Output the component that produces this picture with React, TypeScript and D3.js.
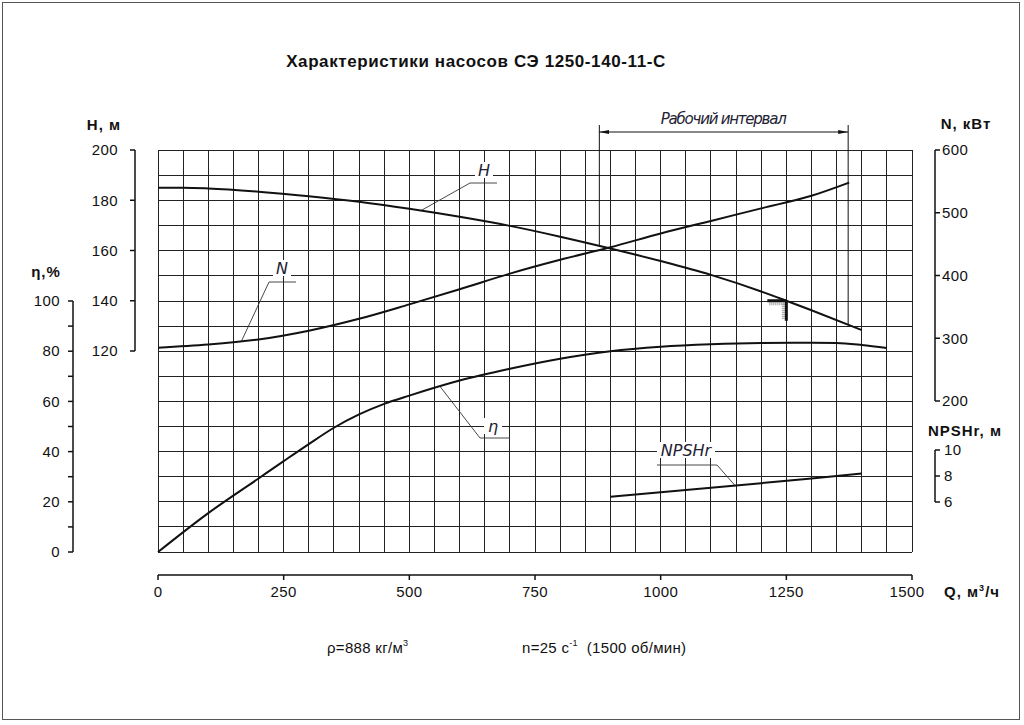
import * as d3 from 'd3';

// pump curves
const qH = [0, 50, 100, 200, 300, 400, 500, 600, 700, 800, 900, 1000, 1100, 1200, 1250, 1300, 1400];
const headM = [185, 185, 184.7, 183.4, 181.6, 179.4, 176.6, 173.4, 169.8, 165.5, 160.8, 155.8, 150.3, 143.7, 140, 136.2, 128.3];

const qN = [0, 100, 200, 300, 400, 500, 600, 700, 800, 900, 1000, 1100, 1200, 1300, 1375];
const powerKw = [285, 290, 298, 312, 331, 354, 378, 403, 425, 445, 467, 487, 507, 527, 548];

const qEta = [0, 100, 200, 250, 300, 350, 400, 450, 500, 600, 700, 800, 900, 1000, 1100, 1200, 1300, 1350, 1400, 1450];
const etaPct = [0, 15.5, 29.3, 36.2, 43, 49.5, 54.8, 59, 62.3, 68.3, 73, 77, 80, 81.8, 82.8, 83.3, 83.4, 83.3, 82.5, 81.3];

const qNpsh = [900, 1000, 1100, 1200, 1300, 1400];
const npshM = [6.4, 6.75, 7.1, 7.45, 7.8, 8.2];

const workInterval = [878, 1373];
const dutyPoint = { q: 1250, h: 140 };

const qTicks = [0, 250, 500, 750, 1000, 1250, 1500];
const hTicks = [120, 140, 160, 180, 200];
const etaTicks = [0, 20, 40, 60, 80, 100];
const nTicks = [200, 300, 400, 500, 600];
const npshTicks = [6, 8, 10];

const FONT = "'Liberation Sans', Arial, sans-serif";
const TICK_FS = 15;

export default function App() {
    const x = d3.scaleLinear().domain([0, 1500]).range([158, 912]);
    const yH = d3.scaleLinear().domain([120, 200]).range([351, 150]);
    const yEta = d3.scaleLinear().domain([0, 100]).range([552, 301]);
    const yN = d3.scaleLinear().domain([200, 600]).range([401, 150]);
    const yNpsh = d3.scaleLinear().domain([6, 10]).range([502, 450]);

    const mkLine = (qs: number[], vs: number[], y: d3.ScaleLinear<number, number>) =>
        d3.line<number>().x((_, i) => x(qs[i])).y(v => y(v)).curve(d3.curveMonotoneX)(vs) || '';

    // value of a curve at q (linear between read points)
    const at = (qs: number[], vs: number[], q: number) => {
        const i = Math.max(1, Math.min(qs.length - 1, d3.bisectLeft(qs, q)));
        const t = (q - qs[i - 1]) / (qs[i] - qs[i - 1]);
        return vs[i - 1] + t * (vs[i] - vs[i - 1]);
    };

    const gridX = d3.range(0, 1501, 50);
    const gridY = d3.range(0, 161, 10);
    const gTop = yEta(160);
    const gBot = yEta(0);

    // curve labels: anchor on curve, elbow, underline end, text pos
    const labels = [
        { text: 'H', ax: x(523), ay: yH(at(qH, headM, 523)), ex: 470, ey: 183, ux: 497, tx: 484, ty: 176 },
        { text: 'N', ax: x(166), ay: yN(at(qN, powerKw, 166)), ex: 269, ey: 282, ux: 296, tx: 282, ty: 274 },
        { text: 'η', ax: x(561), ay: yEta(at(qEta, etaPct, 561)), ex: 480, ey: 438, ux: 510, tx: 493, ty: 432 },
        { text: 'NPSHr', ax: x(1148), ay: yNpsh(at(qNpsh, npshM, 1148)), ex: 717, ey: 465, ux: 657, tx: 686, ty: 456 },
    ];

    const wx0 = x(workInterval[0]);
    const wx1 = x(workInterval[1]);
    const dpx = x(dutyPoint.q);
    const dpy = yH(dutyPoint.h);

    const tickText = { fontSize: TICK_FS, fill: '#111', letterSpacing: 0.4 } as const;
    const axTitle = { fontSize: 15, fontWeight: 'bold', fill: '#111', letterSpacing: 1 } as const;

    return (
        <svg width={1024} height={725} style={{ position: 'absolute', left: 0, top: 0, background: '#fff' }}
            fontFamily={FONT}>
            <defs>
                <marker id="arr" viewBox="0 0 10 6" refX="10" refY="3" markerWidth="10" markerHeight="6"
                    markerUnits="userSpaceOnUse" orient="auto-start-reverse">
                    <path d="M0,1 L10,3 L0,5 Z" fill="#111" />
                </marker>
            </defs>
            <rect x={2.5} y={2.5} width={1017} height={717} fill="none" stroke="#555" />

            <text x={476} y={67} textAnchor="middle" fontSize={17} fontWeight="bold" fill="#111" letterSpacing={0.6}>
                Характеристики насосов СЭ 1250-140-11-С
            </text>

            {/* grid */}
            <g stroke="#222" strokeWidth={1} shapeRendering="crispEdges">
                {gridX.map(q => <line key={'gx' + q} x1={x(q)} x2={x(q)} y1={gTop} y2={gBot} />)}
                {gridY.map(v => <line key={'gy' + v} x1={x(0)} x2={x(1500)} y1={yEta(v)} y2={yEta(v)} />)}
            </g>

            {/* working interval */}
            <g stroke="#111" strokeWidth={1}>
                <line x1={wx0} x2={wx0} y1={125} y2={yH(at(qH, headM, workInterval[0]))} />
                <line x1={wx1} x2={wx1} y1={125} y2={yH(at(qH, headM, workInterval[1]))} />
                <line x1={wx0} x2={wx1} y1={132} y2={132} markerStart="url(#arr)" markerEnd="url(#arr)" />
            </g>
            <text x={(wx0 + wx1) / 2} y={124} textAnchor="middle" fontSize={15} fontStyle="italic" fill="#223"
                fontFamily="'DejaVu Sans', sans-serif" fontWeight={200} textLength={126}>
                Рабочий интервал
            </text>

            {/* label leaders */}
            {labels.map(l => (
                <g key={l.text}>
                    <polyline points={`${l.ax},${l.ay} ${l.ex},${l.ey} ${l.ux},${l.ey}`} fill="none" stroke="#333" strokeWidth={0.9} />
                    <rect x={l.tx - (l.text.length * 5 + 4)} y={l.ty - 14} width={l.text.length * 10 + 8} height={16} fill="#fff" />
                    <text x={l.tx} y={l.ty} textAnchor="middle" fontSize={16} fontStyle="italic" fill="#223"
                        fontFamily="'DejaVu Sans', sans-serif" fontWeight={200}>{l.text}</text>
                </g>
            ))}

            {/* curves */}
            <g fill="none" stroke="#111" strokeWidth={2}>
                <path d={mkLine(qH, headM, yH)} />
                <path d={mkLine(qN, powerKw, yN)} />
                <path d={mkLine(qEta, etaPct, yEta)} />
                <path d={mkLine(qNpsh, npshM, yNpsh)} />
            </g>

            {/* duty point */}
            <g>
                <line x1={dpx - 17} x2={dpx - 2} y1={dpy + 3} y2={dpy + 3} stroke="#999" strokeWidth={3} strokeDasharray="1 1" />
                <line x1={dpx - 3} x2={dpx - 3} y1={dpy + 3} y2={dpy + 19} stroke="#999" strokeWidth={3} strokeDasharray="1 1" />
                <line x1={dpx - 19} x2={dpx} y1={dpy} y2={dpy} stroke="#111" strokeWidth={3} />
                <line x1={dpx} x2={dpx} y1={dpy} y2={dpy + 20} stroke="#111" strokeWidth={3} />
            </g>

            {/* H axis */}
            <g stroke="#111" strokeWidth={1.5} fill="none">
                <line x1={135} x2={135} y1={yH(200)} y2={yH(120)} />
                {hTicks.map(v => <line key={'ht' + v} x1={130} x2={135} y1={yH(v)} y2={yH(v)} />)}
            </g>
            {hTicks.map(v => (
                <text key={'hl' + v} x={118} y={yH(v)} dy="0.35em" textAnchor="end" {...tickText}>{v}</text>
            ))}
            <text x={104} y={130} textAnchor="middle" {...axTitle}>H, м</text>

            {/* eta axis */}
            <g stroke="#111" strokeWidth={1.5} fill="none">
                <line x1={73} x2={73} y1={yEta(100)} y2={yEta(0)} />
                {d3.range(0, 101, 10).map(v => <line key={'et' + v} x1={68} x2={73} y1={yEta(v)} y2={yEta(v)} />)}
            </g>
            {etaTicks.map(v => (
                <text key={'el' + v} x={60} y={yEta(v)} dy="0.35em" textAnchor="end" {...tickText}>{v}</text>
            ))}
            <text x={46} y={277} textAnchor="middle" {...axTitle}>η,%</text>

            {/* N axis */}
            <g stroke="#111" strokeWidth={1.5} fill="none">
                <line x1={935} x2={935} y1={yN(600)} y2={yN(200)} />
                {nTicks.map(v => <line key={'nt' + v} x1={935} x2={940} y1={yN(v)} y2={yN(v)} />)}
            </g>
            {nTicks.map(v => (
                <text key={'nl' + v} x={942} y={yN(v)} dy="0.35em" {...tickText}>{v}</text>
            ))}
            <text x={966} y={129} textAnchor="middle" {...axTitle}>N, кВт</text>

            {/* NPSHr axis */}
            <g stroke="#111" strokeWidth={1.5} fill="none">
                <line x1={935} x2={935} y1={yNpsh(10)} y2={yNpsh(6)} />
                {npshTicks.map(v => <line key={'pt' + v} x1={935} x2={940} y1={yNpsh(v)} y2={yNpsh(v)} />)}
            </g>
            {npshTicks.map(v => (
                <text key={'pl' + v} x={944} y={yNpsh(v)} dy="0.35em" {...tickText}>{v}</text>
            ))}
            <text x={965} y={436} textAnchor="middle" {...axTitle}>NPSHr, м</text>

            {/* Q axis */}
            <g stroke="#111" strokeWidth={1.5} fill="none">
                <line x1={x(0)} x2={x(1500)} y1={575} y2={575} />
                {qTicks.map(v => <line key={'qt' + v} x1={x(v)} x2={x(v)} y1={575} y2={580} />)}
            </g>
            {qTicks.map(v => (
                <text key={'ql' + v} x={x(v) - (v === 1500 ? 5 : 0)} y={597} textAnchor="middle" {...tickText}>{v}</text>
            ))}
            <text x={944} y={597} {...axTitle}>
                Q, м<tspan dy={-6} fontSize={9}>3</tspan><tspan dy={6}>/ч</tspan>
            </text>

            {/* notes */}
            <text x={327} y={653} fontSize={15} fill="#111" letterSpacing={0.3}>
                ρ=888 кг/м<tspan dy={-7} fontSize={9}>3</tspan>
            </text>
            <text x={522} y={653} fontSize={15} fill="#111" letterSpacing={0.3}>
                n=25 с<tspan dy={-7} fontSize={9}>-1</tspan><tspan dy={7} xmlSpace="preserve">  (1500 об/мин)</tspan>
            </text>
        </svg>
    );
}
